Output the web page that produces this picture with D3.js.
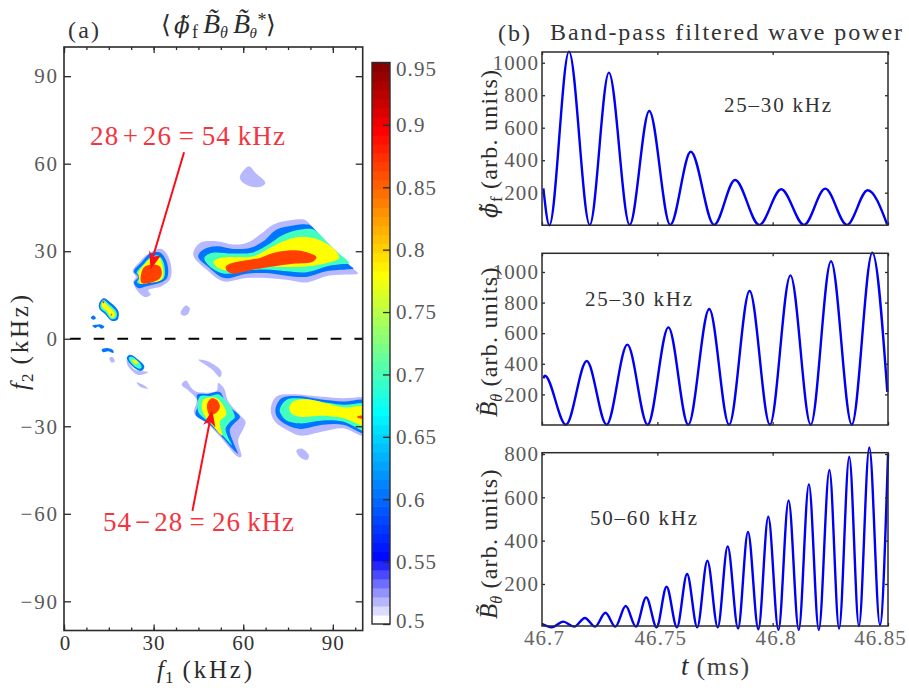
<!DOCTYPE html>
<html><head><meta charset="utf-8">
<script src="https://cdn.jsdelivr.net/npm/d3@7"></script>
<style>
html,body{margin:0;padding:0;background:#fff}
svg{display:block}
text{font-family:"Liberation Serif","DejaVu Serif",serif}
</style></head><body>
<div id="c"></div>
<script>
// ---------- Bispectrum panel: contour regions, [f1,f2] in kHz ----------
const f1Ticks=[0,30,60,90], f1Minor=d3.range(0,100,7.5), f2Ticks=[-90,-60,-30,0,30,60,90];
const contourLevels=[0.514,0.605,0.6975,0.78,0.866];
const regions0=[
 [[43.25,28.8],[45.5,32.8],[51,33.4],[56.6,32.3],[61.1,32.8],[65.6,35.7],[70,39.1],[75.6,40.6],[80.6,40.8],[81.6,40],[86.7,34.5],[92,29],[96,24.8],[98.4,22.4],[97,22.1],[92,21.9],[87.8,21.4],[81.2,19.3],[74.5,20.2],[67.8,20.8],[61.1,20.8],[53.3,19.7],[47.7,23.7]],
 [[22.97,23.1],[25.4,26.5],[28.8,29.6],[32.7,30.8],[34.9,28.2],[36,23.7],[35.4,20.2],[32.7,18],[28.2,16.6],[29,15.1],[27.1,14.3],[24.3,16.8],[23.2,19.7],[24.1,21.2]],
 [[39.4,-15.8],[40.8,-14.3],[42.7,-16.9],[44.4,-18.2],[51.1,-17.8],[51.6,-15.2],[53.5,-16.9],[55,-21.5],[58.9,-26.1],[60.8,-28.4],[60,-31],[58.3,-34.7],[59.4,-40.4],[58.6,-40.6],[57.7,-40.1],[52.2,-33.5],[47.7,-28.9],[43.6,-25.5],[44.4,-20.9],[41.6,-17.7]],
 [[69.2,-24.4],[71.1,-19.8],[76.7,-19],[85.6,-19.8],[93.4,-20.4],[99.5,-20],[102,-20],[102,-33.5],[99.5,-33.2],[93.4,-30.7],[86.7,-31.8],[79,-33.2],[74.5,-31.2],[70.6,-28.4]],
 [[58.9,55.7],[61.9,59.1],[64,57],[67.4,53.4],[65.5,52],[62.2,52.3],[59.4,54]],
 [[39,8.8],[40.8,11.4],[42.1,10.5],[41.6,8.6],[39.9,7.9]],
 [[45,-7.2],[48.3,-7.8],[52.7,-11.2],[52.2,-13.2],[49.4,-10.4]],
 [[77.8,-38.3],[79.5,-37.6],[82,-40],[81.4,-41.5],[79.1,-40.7]],
 [[21,-7.2],[23.7,-10.6],[28.2,-11.4],[24.9,-12.4],[21.5,-9.5]],
 [[24.3,-14.9],[26.5,-15.8],[28.2,-17.2],[25.4,-16.4]],
 [[15.2,-6.6],[16.3,-6.3],[17,-7.8],[15.9,-8.1]]
];
const regions1=[
 [[44.9,28.2],[46.6,30.5],[51,31.7],[56.6,30.8],[62.2,31.1],[66.7,33.4],[71.1,37.4],[76.7,38.8],[81,39.2],[82.3,39],[87,34],[92,29],[95.5,25.3],[96.9,24.1],[95,23.8],[87.8,23.1],[81.2,21.2],[74.5,21.6],[67.8,22.5],[61.1,22.3],[53.8,20.8],[48.8,24.2]],
 [[23.4,23.1],[26,26.2],[28.8,29.2],[32.1,29.6],[34.1,27.1],[34.9,23.1],[34.3,20.5],[31.9,19.1],[27.6,18],[24.9,17.4],[23.4,19.3],[24.9,21.2]],
 [[44.6,-19.2],[48,-18.9],[52.2,-18.3],[54.4,-22.6],[58.9,-26.7],[57,-29],[55.5,-31.2],[56.5,-35],[58.2,-39.4],[57.2,-38.6],[53,-33.8],[48.3,-29],[44.1,-26.1],[44.9,-22.6]],
 [[70.8,-24.1],[72.8,-20.4],[77.8,-19.6],[85.6,-20.7],[93.4,-21.5],[102,-21.5],[102,-32.6],[93.4,-29.5],[86.7,-29.5],[79,-30.9],[74.5,-29.5],[71.3,-26.7]],
 [[11.7,11.9],[13.2,13.9],[15.4,12.6],[18.2,9.4],[17.9,6.5],[15.9,6.2],[13.7,8.5],[12,10]],
 [[9,7.3],[9.8,8],[10.7,7.1],[9.8,6.5]],
 [[9.5,4.6],[10.9,4.8],[12,5],[13.5,4.2],[12.6,3.4],[11.5,4.2],[10.4,3.7]],
 [[12.6,-3.8],[14.3,-3.2],[16.5,-4],[16.5,-4.9],[14.8,-4.3],[13.1,-4.6]],
 [[21,-6.6],[22.1,-5.5],[24.9,-7.2],[26.9,-9.5],[26,-11],[23.7,-10.1]]
];
const regions2=[
 [[47,27.7],[49.4,29.4],[56.6,29.2],[63.3,29.6],[68.3,32.2],[72.8,35.3],[77.8,37.2],[82.5,37.7],[84,37.2],[90,31],[95.4,25.9],[93,25.6],[87.8,24.8],[81.2,22.8],[74.5,23.1],[67.8,23.7],[61.1,23.4],[53.8,22.3],[48.8,24.8]],
 [[24.3,22.5],[26.8,25.7],[29,28],[31.5,28.5],[33.2,26.5],[33.8,22.5],[33.2,20.5],[30.4,19.7],[26,18.8],[24.5,19.3],[25.4,21.4]],
 [[45.5,-19.8],[49,-19.6],[52,-19.2],[57.2,-26.7],[55.5,-28.6],[54.1,-30.7],[54.8,-33.5],[56.3,-36.6],[53,-33],[48.3,-28.4],[44.9,-24.9]],
 [[72.2,-24.4],[74.5,-20.9],[78.9,-20.4],[85.6,-21.5],[93.4,-22.6],[102,-22.6],[102,-31.8],[93.4,-28.4],[86.7,-28],[79,-29],[74.5,-28],[72.8,-26.1]],
 [[12.2,11.7],[13.2,13.4],[15,11.9],[17.6,9.1],[17.4,7.1],[15.9,6.7],[13.9,9.1],[12.4,10.3]],
 [[21.7,-6.6],[22.6,-6.2],[24.9,-7.8],[26,-9.7],[25.4,-10.3],[23.2,-9.1]]
];
const regions3=[
 [[50,26.5],[52.2,27.7],[57.7,28],[63.3,28.2],[68.9,31.1],[73.4,33.4],[78.9,34.9],[85.1,34],[90.6,30.5],[92.1,27.7],[89,26.2],[81.2,24.8],[74.5,24.6],[67.8,24.8],[61.1,24.8],[54.4,23.4],[51.1,24.6]],
 [[24.9,22.5],[27.1,25.7],[29.3,27.7],[31.9,27.7],[33,25],[33.2,21.6],[32.3,20],[28.2,19.1],[25.4,18.9],[25.2,20.8]],
 [[46.6,-20.9],[51.1,-20.4],[54.4,-25.7],[52.2,-28.4],[53,-33.2],[48.3,-27.8],[46.4,-24.9]],
 [[75.4,-23.8],[76.7,-21.5],[81.2,-20.7],[87.8,-22.1],[93.4,-23.5],[102,-23.5],[102,-30.1],[93.4,-27.2],[86.7,-26.4],[79,-26.7],[76.1,-25.5]],
 [[12.6,11.7],[13.2,12.8],[14.6,11.4],[17.1,8.8],[16.8,7.4],[15.9,7.3],[14.3,9.6],[12.8,10.7]],
 [[22.6,-7.2],[23.7,-7.2],[24.9,-8.3],[24,-8.7]]
];
const regions4=[
 [[54.1,24.6],[55.5,25.7],[61.1,26.9],[65.6,27.7],[70,29.4],[74.5,30.2],[80,30],[84.5,28],[83.4,26.5],[76.7,25.7],[70,24.8],[64.4,23.9],[56.6,22.3],[54.7,23.1]],
 [[26,19.1],[26.5,24.2],[28.8,25.4],[32.1,24.8],[32.7,22],[31.5,20.2]],
 [[48,-22.1],[49.4,-20.4],[51.1,-20.9],[52.2,-23.2],[51.1,-25.3],[48.8,-26.1],[48,-24.4]],
 [[98.1,-26.7],[100.5,-26.4],[100.5,-27.2],[98.4,-27.2]],
 [[13,13],[13.5,12.9],[13.3,12.2],[13,12.2]],
 [[15.7,8.5],[16.1,8.5],[16,8],[15.7,8]]
];
const arrowUpShaft=[[40.2,63.9],[29.8,28.1]], arrowUpHead=[[29,23.7],[28.5,30.3],[29.8,28.1],[32.4,28.5]];
const arrowDownShaft=[[43,-59],[48.8,-28.4]], arrowDownHead=[[49.6,-24.4],[46.6,-29.5],[48.8,-28.4],[50.7,-30.4]];

// ---------- Colour bar ----------
const cbarTicks=[0.5,0.55,0.6,0.65,0.7,0.75,0.8,0.85,0.9,0.95];
const cmapStops=[0.5,0.55,0.67,0.78,0.895,0.95];
const cmapColors=["#ffffff","#0000ff","#00ffff","#ffff00","#ff0000","#800000"];
const cbarBandCount=62;

// ---------- Wave power traces: turning points ----------
const tTicks=[46.7,46.75,46.8,46.85];
const phiT=[46.7006,46.7032,46.7117,46.7207,46.729,46.738,46.7465,46.7556,46.7645,46.7746,46.7837,46.7942,46.8037,46.8136,46.8228,46.8322,46.8412,46.8497];
const phiP=[227,0,1068,2,939,2,703,2,452,2,278,2,221,2,225,2,215,2];
const b1T=[46.7006,46.7012,46.7104,46.7194,46.728,46.737,46.7458,46.7548,46.7634,46.7725,46.7811,46.79,46.7988,46.8077,46.8165,46.8253,46.8343,46.8432,46.8497];
const b1P=[305,322,2,418,2,525,2,638,2,758,2,876,2,978,2,1070,2,1126,217];
const b2T=[46.7001,46.7042,46.7092,46.714,46.7186,46.723,46.7275,46.7318,46.7363,46.7407,46.7452,46.7497,46.754,46.7585,46.7629,46.7673,46.7717,46.7762,46.7805,46.785,46.7893,46.7938,46.7981,46.8025,46.8069,46.8113,46.8157,46.82,46.8246,46.8288,46.8332,46.8374,46.8419,46.8465,46.85];
const b2P=[15,0,26,3,43,3,67,3,98,3,138,0,187,0,246,0,307,0,373,-5,440,-9,510,-12,586,-12,660,-12,726,-6,787,6,830,11,795];

const W=909,H=688;
const svg=d3.select("#c").append("svg").attr("width",W).attr("height",H);
const defs=svg.append("defs");
const ink="#2b2b2b", grey="#5a5a5a";

// left panel scales
const x=d3.scaleLinear().domain([0,100]).range([64,362.7]);
const y=d3.scaleLinear().domain([-100,100]).range([630.5,47]);
defs.append("clipPath").attr("id","cl").append("rect").attr("x",64).attr("y",47).attr("width",298.7).attr("height",583.5);

const cmap=d3.scaleLinear().domain(cmapStops).range(cmapColors);
const blob=d3.line().x(d=>x(d[0])).y(d=>y(d[1])).curve(d3.curveCatmullRomClosed.alpha(0.5));
const gc=svg.append("g").attr("clip-path","url(#cl)");
[regions0,regions1,regions2,regions3,regions4].forEach((rs,i)=>{
  gc.append("g").selectAll("path").data(rs).join("path").attr("d",blob).attr("fill",cmap(contourLevels[i]));
});
// zero line
svg.append("line").attr("x1",x(0)).attr("x2",x(100)).attr("y1",y(0)).attr("y2",y(0))
  .attr("stroke","#000").attr("stroke-width",2).attr("stroke-dasharray","10.7 13").attr("stroke-dashoffset",-6);

const tickSize=21;
function style(g,col,size,w){
  g.select(".domain").remove();
  g.selectAll("line").attr("stroke",ink).attr("stroke-width",w||1.3);
  g.selectAll("text").attr("fill",col).style("font-size",size+"px").style("letter-spacing","1.1px");
}
// left panel axes
const fmtMinus=d=>d<0?"\u2212"+(-d):""+d;
let g=svg.append("g").attr("transform",`translate(0,${y(-100)})`).call(d3.axisBottom(x).tickValues(f1Minor).tickSize(-3).tickFormat(""));style(g,ink,tickSize);
g=svg.append("g").attr("transform",`translate(0,${y(-100)})`).call(d3.axisBottom(x).tickValues(f1Ticks).tickSize(-6).tickPadding(5).tickFormat(d=>d));style(g,"#333",tickSize);
g.selectAll("text").attr("dx",d=>d===0?1:0);
g=svg.append("g").attr("transform",`translate(0,${y(100)})`).call(d3.axisTop(x).tickValues(f1Minor).tickSize(-3).tickFormat(""));style(g,ink,tickSize);
g=svg.append("g").attr("transform",`translate(0,${y(100)})`).call(d3.axisTop(x).tickValues(f1Ticks).tickSize(-6).tickFormat(""));style(g,ink,tickSize);
g=svg.append("g").attr("transform",`translate(${x(0)},0)`).call(d3.axisLeft(y).tickValues(f2Ticks).tickSize(-7).tickPadding(5).tickFormat(fmtMinus));style(g,grey,tickSize);
g.selectAll("text").style("letter-spacing","1.9px");
g=svg.append("g").attr("transform",`translate(${x(100)},0)`).call(d3.axisRight(y).tickValues(f2Ticks).tickSize(-7).tickFormat(""));style(g,ink,tickSize);
svg.append("rect").attr("x",x(0)).attr("y",y(100)).attr("width",x(100)-x(0)).attr("height",y(-100)-y(100)).attr("fill","none").attr("stroke",ink).attr("stroke-width",1.6);

// arrows
const red="#fb0d1b", redText="#f2353f";
const ln=d3.line().x(d=>x(d[0])).y(d=>y(d[1]));
[[arrowUpShaft,arrowUpHead],[arrowDownShaft,arrowDownHead]].forEach(([s,h])=>{
  svg.append("path").attr("d",ln(s)).attr("stroke",red).attr("stroke-width",2).attr("fill","none");
  svg.append("path").attr("d",ln(h)+"Z").attr("fill",red);
});
function t(px,py,str,opts={}){
  const e=svg.append("text").attr("x",px).attr("y",py).text(str)
    .attr("fill",opts.fill||ink).style("font-size",(opts.size||20)+"px");
  if(opts.len) e.attr("textLength",opts.len).attr("lengthAdjust","spacing");
  if(opts.anchor) e.attr("text-anchor",opts.anchor);
  if(opts.italic) e.style("font-style","italic");
  return e;
}
t(90,145,"28\u200A+\u200A26\u2009=\u200954\u2009kHz",{fill:redText,size:27,len:195});
t(103,531,"54\u200A\u2212\u200A28\u2009=\u200926\u2009kHz",{fill:redText,size:27,len:191});

// labels
t(68,38,"(a)",{size:24,len:31,fill:"#333"});
function label(parent,parts){
  const e=parent.append("text").attr("fill",ink);
  parts.forEach(p=>{
    const s=e.append("tspan").text(p.s).style("font-size",(p.size||24)+"px");
    if(p.i) s.style("font-style","italic");
    if(p.dx!=null) s.attr("dx",p.dx);
    if(p.dy!=null) s.attr("dy",p.dy);
    if(p.ls) s.style("letter-spacing",p.ls+"px");
    if(p.fill) s.attr("fill",p.fill);
    if(p.ff) s.style("font-family",p.ff);
  });
  return e;
}
const unit=" (kHz)";
label(svg.append("g").attr("transform","translate(157,678)"),[
 {s:"f",i:1,size:25},{s:"1",size:17,dy:5,dx:1},{s:unit,dy:-5,size:25,ls:2.8}]);
label(svg.append("g").attr("transform","translate(28,390) rotate(-90)"),[
 {s:"f",i:1,size:25},{s:"2",size:17,dy:5,dx:1},{s:unit,dy:-5,size:25,ls:2.8}]);
label(svg.append("g").attr("transform","translate(681,675)"),[
 {s:"t",i:1,size:27},{s:" (ms)",size:26,ls:1.6,fill:"#444"}]);

// title: one text, glyphs placed along the baseline
const title=svg.append("text").attr("fill",ink);
[["\u27E8",161,33,25,0,0],["\u03D5\u0303",174,33,23,1,1],["f",192,38,18,0,0],
 ["B\u0303",203,33,28,1,0],["\u03B8",220,38,16,1,0],
 ["B\u0303",233,33,28,1,0],["\u03B8",249.5,38,15,1,0],["*",257.5,26,18,0,0],["\u27E9",266,33,25,0,0]].forEach(([s,px,py,sz,it,dv])=>{
  const sp=title.append("tspan").attr("x",px).attr("y",py).text(s).style("font-size",sz+"px");
  if(it) sp.style("font-style","italic");
  if(dv) sp.style("font-family","DejaVu Serif");
});

// colour bar
const cb=d3.scaleLinear().domain([0.5,0.95]).range([624,62.5]);
const bands=d3.range(cbarBandCount).map(i=>0.5+i*0.45/cbarBandCount);
const colorAt=v=>{
  if(v<0.55){ return d3.interpolateRgb("#ffffff","#0000ff")(Math.floor((v-0.5)/(0.05/7)+1e-6)/7); }
  return cmap(v+0.0036);
};
svg.append("g").selectAll("rect").data(bands).join("rect")
  .attr("x",372).attr("width",18)
  .attr("y",d=>cb(d+0.45/cbarBandCount)).attr("height",d=>cb(d)-cb(d+0.45/cbarBandCount)+0.6)
  .attr("fill",colorAt);
g=svg.append("g").attr("transform","translate(390,0)").call(d3.axisRight(cb).tickValues(cbarTicks).tickSize(-7).tickPadding(6).tickFormat(d=>d));
style(g,grey,tickSize);
g.selectAll("text").attr("dy",d=>d===0.95?"0.62em":d===0.5?"0.16em":"0.33em");
svg.append("rect").attr("x",372).attr("y",62.5).attr("width",18).attr("height",561.5).attr("fill","none").attr("stroke",ink).attr("stroke-width",1.4);

// right panels
const tx=d3.scaleLinear().domain([46.7,46.85]).range([542,888]);
const panels=[
 {T:phiT,P:phiP,top:52,bot:225.2,dom:[0,1066],ticks:[200,400,600,800,1000]},
 {T:b1T,P:b1P,top:253.3,bot:425,dom:[0,1122],ticks:[200,400,600,800,1000]},
 {T:b2T,P:b2P,top:452.7,bot:626,dom:[6,806],ticks:[200,400,600,800]}
];
panels.forEach((p,i)=>{
  const yy=d3.scaleLinear().domain(p.dom).range([p.bot,p.top]);
  svg.append("path").datum(p.T.map((d,j)=>[d,p.P[j]]))
    .attr("d",d3.line().x(d=>tx(d[0])).y(d=>yy(d[1])).curve(d3.curveMonotoneX))
    .attr("fill","none").attr("stroke","#0000f5").attr("stroke-width",2.4);
  let a=svg.append("g").attr("transform",`translate(0,${p.bot})`).call(d3.axisBottom(tx).tickValues(tTicks).tickSize(-3).tickPadding(4).tickFormat(i===2?(d=>d):""));
  style(a,"#666",tickSize);
  if(i===2) a.selectAll("text").attr("dx",d=>d===46.85?-8:d===46.7?2:3);
  a=svg.append("g").attr("transform",`translate(0,${p.top})`).call(d3.axisTop(tx).tickValues(tTicks).tickSize(-3).tickFormat(""));style(a,ink,tickSize);
  a=svg.append("g").attr("transform","translate(542,0)").call(d3.axisLeft(yy).tickValues(p.ticks).tickSize(-3).tickPadding(3).tickFormat(d=>d));style(a,grey,tickSize);
  a=svg.append("g").attr("transform","translate(888,0)").call(d3.axisRight(yy).tickValues(p.ticks).tickSize(-3).tickFormat(""));style(a,ink,tickSize);
  svg.append("rect").attr("x",542).attr("y",p.top).attr("width",346).attr("height",p.bot-p.top).attr("fill","none").attr("stroke",ink).attr("stroke-width",1.5);
});
t(498,41,"(b)",{size:24,len:32,fill:"#333"});
t(550,40,"Band-pass filtered wave power",{size:24,len:352,fill:"#333"});
t(724,112,"25\u201330 kHz",{size:21,len:107,fill:"#333"});
t(585,306,"25\u201330 kHz",{size:21,len:107,fill:"#333"});
t(590,525,"50\u201360 kHz",{size:21,len:107,fill:"#333"});

const arb=" (arb. units)";
label(svg.append("g").attr("transform","translate(497,218) rotate(-90)"),[
 {s:"\u03D5\u0303",i:1,size:22,ff:"DejaVu Serif"},{s:"f",size:17,dx:1,dy:5},{s:arb,size:24,dy:-5,ls:1.25}]);
label(svg.append("g").attr("transform","translate(497,417) rotate(-90)"),[
 {s:"B\u0303",i:1,size:25},{s:"\u03B8",i:1,size:16,dy:5},{s:arb,size:24,dy:-5,ls:1.25}]);
label(svg.append("g").attr("transform","translate(497,619) rotate(-90)"),[
 {s:"B\u0303",i:1,size:25},{s:"\u03B8",i:1,size:16,dy:5},{s:arb,size:24,dy:-5,ls:1.25}]);
</script></body></html>
